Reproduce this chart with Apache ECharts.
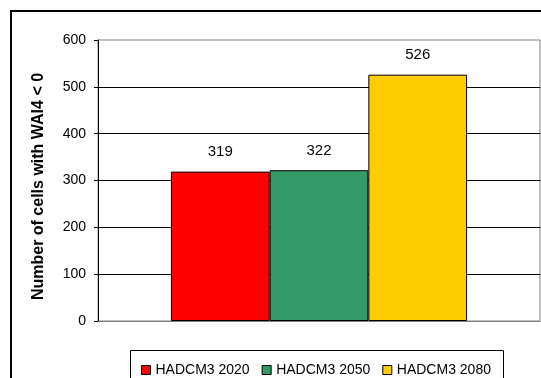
<!DOCTYPE html>
<html>
<head>
<meta charset="utf-8">
<script src="https://cdn.jsdelivr.net/npm/echarts@6/dist/echarts.min.js"></script>
<style>
  html, body { margin: 0; padding: 0; background: #fff; }
  #chart { width: 541px; height: 378px; }
</style>
</head>
<body>
<div id="chart"></div>
<script>
// Chart data
const categories = [''];
const seriesNames = ['HADCM3 2020', 'HADCM3 2050', 'HADCM3 2080'];
const hadcm3_2020 = [319];
const hadcm3_2050 = [322];
const hadcm3_2080 = [526];
const yTicks = { min: 0, max: 600, interval: 100 };
const yTitle = 'Number of cells with WAI4 < 0';

const seriesValues = [hadcm3_2020, hadcm3_2050, hadcm3_2080];
const colors = ['#FF0000', '#339966', '#FFCC00'];

const FONT = 'Liberation Sans, Arial, sans-serif';

const chart = echarts.init(document.getElementById('chart'), null, { renderer: 'canvas' });

chart.setOption({
  animation: false,
  backgroundColor: '#ffffff',
  textStyle: { fontFamily: FONT, color: '#000' },
  grid: {
    left: 98, right: 1, top: 40, bottom: 57,
    show: true, borderColor: '#808080', borderWidth: 1,
    backgroundColor: 'transparent'
  },
  legend: {
    left: 136, top: 358,
    itemWidth: 9, itemHeight: 9, itemGap: 12,
    icon: 'rect',
    data: seriesNames.map(function (n) {
      return { name: n, itemStyle: { borderColor: '#000', borderWidth: 1 } };
    }),
    textStyle: { fontFamily: FONT, fontSize: 14, color: '#000', width: 97, padding: [0, 0, 0, 0] }
  },
  xAxis: {
    type: 'category',
    data: categories,
    axisLine: { lineStyle: { color: '#808080', width: 1 } },
    axisTick: { show: false },
    axisLabel: { show: false }
  },
  yAxis: {
    type: 'value',
    min: yTicks.min, max: yTicks.max, interval: yTicks.interval,
    name: yTitle,
    nameLocation: 'middle',
    nameRotate: 90,
    nameGap: 51,
    nameTextStyle: {
      fontFamily: FONT, fontSize: 16, fontWeight: 'bold', color: '#000',
      padding: [0, 12, 0, 0]
    },
    axisLine: { show: true, lineStyle: { color: '#000', width: 1 } },
    axisTick: { show: true, inside: false, length: 4, lineStyle: { color: '#000' } },
    axisLabel: { margin: 12, fontFamily: FONT, fontSize: 14, color: '#000' },
    splitLine: { show: true, showMinLine: false, showMaxLine: false, lineStyle: { color: '#000', width: 1 } }
  },
  series: seriesNames.map(function (name, i) {
    return {
      name: name,
      type: 'bar',
      data: seriesValues[i],
      barGap: '0%',
      barCategoryGap: '33%',
      itemStyle: { color: colors[i], borderColor: '#000', borderWidth: 1 },
      label: {
        show: true, position: 'top', distance: 12,
        fontFamily: FONT, fontSize: 15, color: '#000'
      }
    };
  }),
  graphic: [
    {
      type: 'rect', silent: true,
      shape: { x: 11, y: 11, width: 700, height: 500 },
      style: { fill: 'none', stroke: '#000', lineWidth: 2 }
    },
    {
      type: 'rect', silent: true,
      shape: { x: 130.5, y: 350.5, width: 373, height: 60 },
      style: { fill: 'none', stroke: '#000', lineWidth: 1 }
    }
  ]
});
</script>
</body>
</html>
